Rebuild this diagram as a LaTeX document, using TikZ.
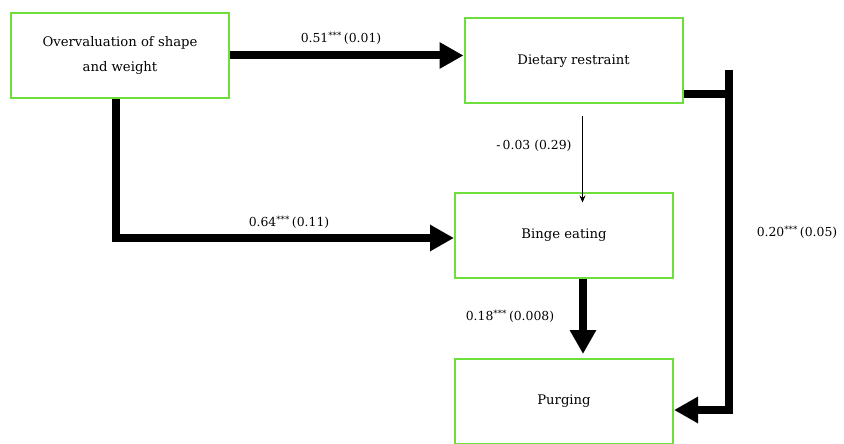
\documentclass[tikz,border=0pt]{standalone}
\usepackage{fontspec}
\setmainfont{DejaVu Serif}
\usepackage{tikz}
\usetikzlibrary{arrows.meta}
\definecolor{boxgreen}{RGB}{110,222,60}

\tikzset{
  box/.style={draw=boxgreen, line width=2pt, minimum width=218pt, minimum height=85pt,
    align=center, font=\fontsize{13.2}{25}\selectfont},
  heavy/.style={line width=8pt, -{Triangle[length=24pt,width=25pt]}},
  light/.style={line width=0.8pt, -{Stealth[length=7pt,width=6pt]}},
  coef/.style={font=\fontsize{12.4}{15}\selectfont}
}

\begin{document}
\begin{tikzpicture}[x=1pt, y=-1pt]
    \useasboundingbox (0,0) rectangle (844,444);
    % boxes
    \node[box] (ovw) at (120,55.5) {Overvaluation of shape\\ and weight};
    \node[box] (diet) at (573.5,61) {Dietary restraint};
    \node[box] (binge) at (564,235) {Binge eating};
    \node[box] (purge) at (564,401.5) {Purging};
    % paths
    \draw[heavy] (ovw.east) -- (ovw.east -| diet.west);
    \draw[heavy] ([xshift=-4pt]ovw.south) |- ([yshift=-3pt]binge.west);
    \draw[light] ([xshift=9pt,yshift=-11pt]diet.south) -- ([xshift=9pt,yshift=-11pt]diet.south |- binge.north);
    \draw[heavy] ([xshift=19pt]binge.south) -- ([xshift=19pt,yshift=4pt]purge.north);
    \coordinate (rtop) at (729,70);
    \coordinate (rbot) at (729,410);
    \draw[line width=8pt] ([yshift=10pt]diet.south east) -- ([yshift=10pt]diet.south east -| rtop);
    \draw[heavy] (rtop) -- (rbot) -- (rbot -| purge.east);
    % coefficients
    \node[coef] (c1) at (341,38) {0.51\textsuperscript{***}\,(0.01)};
    \node[coef] (c2) at (289,222) {0.64\textsuperscript{***}\,(0.11)};
    \node[coef] (c3) at (534,146) {-\,0.03 (0.29)};
    \node[coef] (c4) at (510,316) {0.18\textsuperscript{***}\,(0.008)};
    \node[coef] (c5) at (797,232) {0.20\textsuperscript{***}\,(0.05)};
\end{tikzpicture}
\end{document}
